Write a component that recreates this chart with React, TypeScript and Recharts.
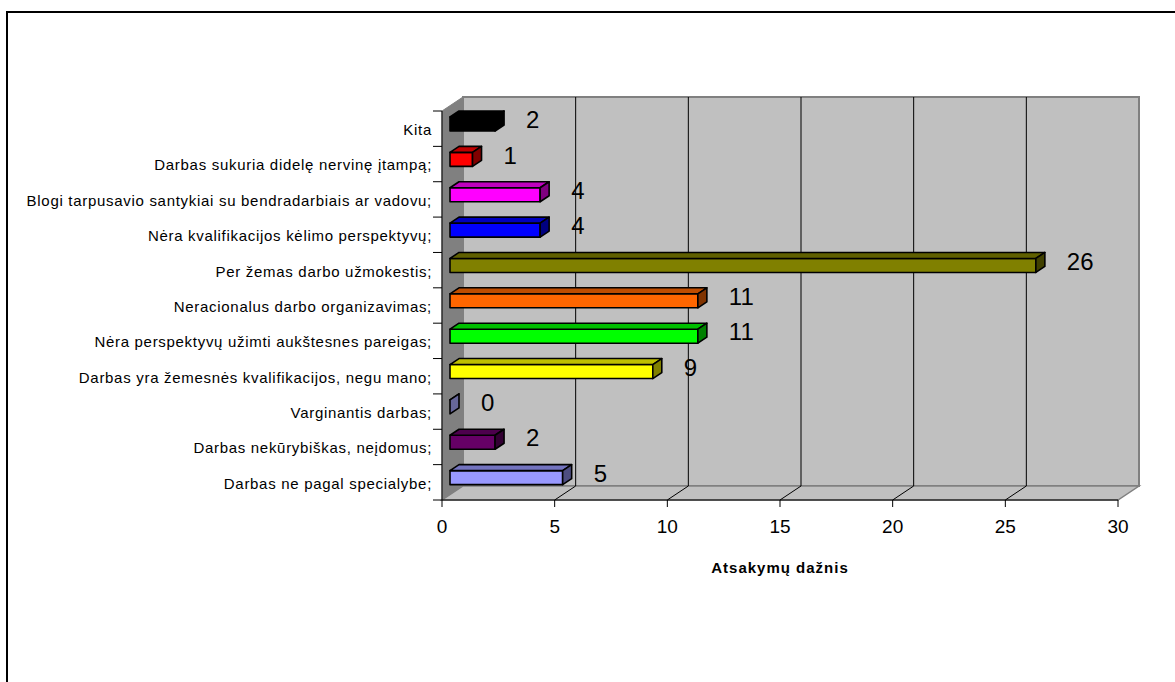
import { BarChart, Bar, XAxis, YAxis, Cell, LabelList, Label, ReferenceArea, ReferenceLine } from "recharts";

const categories = [
  "Kita",
  "Darbas sukuria didelę nervinę įtampą;",
  "Blogi tarpusavio santykiai su bendradarbiais ar vadovu;",
  "Nėra kvalifikacijos kėlimo perspektyvų;",
  "Per žemas darbo užmokestis;",
  "Neracionalus darbo organizavimas;",
  "Nėra perspektyvų užimti aukštesnes pareigas;",
  "Darbas yra žemesnės kvalifikacijos, negu mano;",
  "Varginantis darbas;",
  "Darbas nekūrybiškas, neįdomus;",
  "Darbas ne pagal specialybe;",
];
const answerCounts = [2, 1, 4, 4, 26, 11, 11, 9, 0, 2, 5];
const barColors = [
  "#000000", "#FF0000", "#FF00FF", "#0000FF", "#808000", "#FF6600",
  "#00FF00", "#FFFF00", "#666699", "#660066", "#9999FF",
];
const xTicks = [0, 5, 10, 15, 20, 25, 30];
const gridValues = [5, 10, 15, 20, 25];

const data = categories.map((name, i) => ({ name, value: answerCounts[i] }));

// layout of the fake 3d box
const PLOT_TOP = 111;
const PLOT_BOTTOM = 500;
const DEPTH_X = 21;
const DEPTH_Y = 14;
const BAR_SHIFT_X = 8;
const BAR_SHIFT_Y = 5;
const BAR_DX = 9;
const BAR_DY = 6;
const BAND = (PLOT_BOTTOM - PLOT_TOP) / categories.length;
const FONT = "'Liberation Sans', Arial, sans-serif";

function shade(hex: string, f: number) {
  const n = parseInt(hex.slice(1), 16);
  const r = Math.round(((n >> 16) & 255) * f);
  const g = Math.round(((n >> 8) & 255) * f);
  const b = Math.round((n & 255) * f);
  return `rgb(${r},${g},${b})`;
}

function Walls(props: any) {
  const { x, y, width, height } = props;
  const bx = x + DEPTH_X;
  const by = y - DEPTH_Y;
  const bottom = y + height;
  return (
    <g>
      <rect x={bx} y={by} width={width} height={height} fill="#C0C0C0" stroke="#808080" strokeWidth={2} />
      <polygon
        points={`${x},${y} ${bx},${by} ${bx},${by + height} ${x},${bottom}`}
        fill="#808080"
        stroke="#808080"
      />
      <polygon
        points={`${x},${bottom} ${bx},${bottom - DEPTH_Y} ${bx + width},${bottom - DEPTH_Y} ${x + width},${bottom}`}
        fill="#C0C0C0"
        stroke="#808080"
        strokeWidth={1.5}
      />
    </g>
  );
}

function GridLine3D(props: any) {
  const { x1, y1, y2 } = props;
  const top = Math.min(y1, y2);
  const bottom = Math.max(y1, y2);
  return (
    <g stroke="#000" strokeWidth={1}>
      <line x1={x1 + DEPTH_X} y1={top - DEPTH_Y} x2={x1 + DEPTH_X} y2={bottom - DEPTH_Y} />
      <line x1={x1} y1={bottom} x2={x1 + DEPTH_X} y2={bottom - DEPTH_Y} />
    </g>
  );
}

function Bar3D(props: any) {
  const { x, y, width, height, fill } = props;
  const fx = x + BAR_SHIFT_X;
  const fy = y - BAR_SHIFT_Y;
  const w = Math.max(width, 0);
  const top = `${fx},${fy} ${fx + BAR_DX},${fy - BAR_DY} ${fx + w + BAR_DX},${fy - BAR_DY} ${fx + w},${fy}`;
  const side = `${fx + w},${fy} ${fx + w + BAR_DX},${fy - BAR_DY} ${fx + w + BAR_DX},${fy + height - BAR_DY} ${fx + w},${fy + height}`;
  return (
    <g stroke="#000" strokeWidth={1.6} strokeLinejoin="round">
      <rect x={fx} y={fy} width={w} height={height} fill={fill} />
      <polygon points={top} fill={shade(fill, 0.75)} />
      <polygon points={side} fill={w < 1 ? fill : shade(fill, 0.5)} />
    </g>
  );
}

function ValueLabel(props: any) {
  const vb = props.viewBox ?? props;
  const { x, y, width, height } = vb;
  return (
    <text
      x={x + width + BAR_SHIFT_X + 31}
      y={y + height / 2 - BAR_SHIFT_Y - 4.5}
      dy="0.36em"
      fontSize={24}
      fontFamily={FONT}
      fill="#000"
    >
      {props.value}
    </text>
  );
}

function CategoryTick(props: any) {
  const { x, y, payload, index } = props;
  const half = BAND / 2;
  return (
    <g>
      <line x1={x - 9} x2={x} y1={y - half} y2={y - half} stroke="#000" />
      {index === categories.length - 1 && (
        <line x1={x - 9} x2={x} y1={y + half} y2={y + half} stroke="#000" />
      )}
      <text
        x={x - 10}
        y={y + 1}
        dy="0.36em"
        textAnchor="end"
        fontSize={15}
        letterSpacing={0.7}
        fontFamily={FONT}
        fill="#000"
      >
        {payload.value}
      </text>
    </g>
  );
}

export default function App() {
  return (
    <div style={{ position: "absolute", left: 0, top: 0, width: 1175, height: 682, background: "#fff", fontFamily: FONT }}>
      <div
        style={{
          position: "absolute",
          left: 6,
          top: 11,
          right: 0,
          bottom: 0,
          borderTop: "2px solid #000",
          borderLeft: "2px solid #000",
        }}
      />
      <BarChart
        width={1175}
        height={682}
        data={data}
        layout="vertical"
        margin={{ top: 111, right: 57, bottom: 122, left: 0 }}
        style={{ position: "absolute", left: 0, top: 0 }}
      >
        <ReferenceArea x1={0} x2={30} shape={<Walls />} zIndex={-200} ifOverflow="visible" />
        {gridValues.map((v) => (
          <ReferenceLine key={v} x={v} shape={<GridLine3D />} zIndex={-150} />
        ))}
        <XAxis
          type="number"
          domain={[0, 30]}
          ticks={xTicks}
          allowDataOverflow
          height={60}
          tickSize={7}
          tickMargin={13}
          tick={{ fontSize: 19, fill: "#000", fontFamily: FONT }}
          axisLine={{ stroke: "#000" }}
          tickLine={{ stroke: "#000" }}
        >
          <Label
            value="Atsakymų dažnis"
            position="bottom"
            offset={2}
            style={{ fontSize: 15, fontWeight: "bold", fill: "#000", fontFamily: FONT, letterSpacing: 1 }}
          />
        </XAxis>
        <YAxis
          type="category"
          dataKey="name"
          width={442}
          interval={0}
          tickSize={0}
          tickMargin={0}
          tickLine={false}
          axisLine={{ stroke: "#000" }}
          tick={<CategoryTick />}
        />
        <Bar dataKey="value" barSize={14} shape={<Bar3D />} isAnimationActive={false}>
          {data.map((d, i) => (
            <Cell key={d.name} fill={barColors[i]} />
          ))}
          <LabelList dataKey="value" content={<ValueLabel />} />
        </Bar>
      </BarChart>
    </div>
  );
}
